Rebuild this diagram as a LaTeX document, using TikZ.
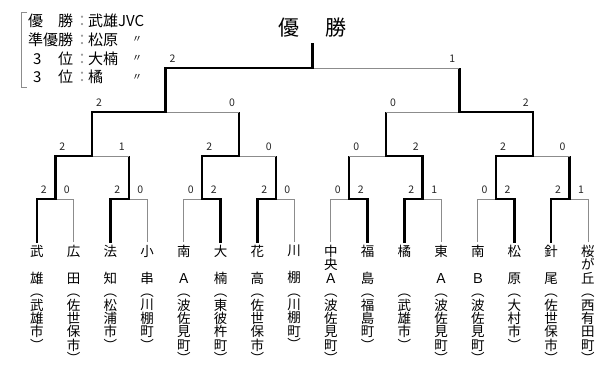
\documentclass[tikz,border=0pt]{standalone}
\usepackage{fontspec}
\newfontfamily\jp{Noto Sans CJK JP}
\usetikzlibrary{calc}
\tikzset{
	% bracket lines
	win/.style={line width=2.4pt,black,line cap=rect},
	lose/.style={line width=0.9pt,black!45},
	% texts
	team/.style={inner sep=0pt,align=center,anchor=north,font=\jp\fontsize{13.5}{13.4}\selectfont},
	score/.style={inner sep=0pt,font=\jp\fontsize{10.5}{10.5}\selectfont,text=black!85},
	legend/.style={inner sep=0pt,anchor=west,font=\jp\fontsize{15}{15}\selectfont},
	colon/.style={inner sep=0pt,font=\jp\fontsize{15}{15}\selectfont,text=black!40},
	ditto/.style={inner sep=0pt,font=\jp\fontsize{10}{10}\selectfont},
}

\begin{document}
\begin{tikzpicture}[x=1pt,y=-1pt]
\useasboundingbox (0,0) rectangle (603,368);
% the legend
\draw[lose] (27,12) -- (21,12) -- (21,87) -- (27,87);
\node[legend] (k1) at (28,21) {\makebox[45pt][s]{優\hfill 勝}};
\node[legend] (k2) at (28,40) {準優勝};
\node[legend] (k3) at (28,59) {\makebox[45pt][s]{\hspace{5pt}3\hfill 位}};
\node[legend] (k4) at (28,77) {\makebox[45pt][s]{\hspace{5pt}3\hfill 位}};
\foreach \k in {1,...,4}
  \node[colon] (c\k) at ($(k\k.west)+(54,0)$) {：};
\node[legend] (v1) at (88,21) {武雄JVC};
\node[legend] (v2) at (88,40) {松原};
\node[legend] (v3) at (88,59) {大楠};
\node[legend] (v4) at (88,77) {橘};
\foreach \k in {2,3,4}
  \node[ditto] (d\k) at (137,{21+18.7*(\k-1)}) {〃};
% the title
\node[inner sep=0pt,font=\jp\fontsize{21}{21}\selectfont] (champ) at (312,28) {優\hspace{26pt}勝};
% the teams
\foreach \name [count=\i] in {
  {武\\　\\雄\\︵\\武\\雄\\市\\︶},
  {広\\　\\田\\︵\\佐\\世\\保\\市\\︶},
  {法\\　\\知\\︵\\松\\浦\\市\\︶},
  {小\\　\\串\\︵\\川\\棚\\町\\︶},
  {南\\　\\Ａ\\︵\\波\\佐\\見\\町\\︶},
  {大\\　\\楠\\︵\\東\\彼\\杵\\町\\︶},
  {花\\　\\高\\︵\\佐\\世\\保\\市\\︶},
  {川\\　\\棚\\︵\\川\\棚\\町\\︶},
  {中\\央\\Ａ\\︵\\波\\佐\\見\\町\\︶},
  {福\\　\\島\\︵\\福\\島\\町\\︶},
  {橘\\　\\　\\︵\\武\\雄\\市\\︶},
  {東\\　\\Ａ\\︵\\波\\佐\\見\\町\\︶},
  {南\\　\\Ｂ\\︵\\波\\佐\\見\\町\\︶},
  {松\\　\\原\\︵\\大\\村\\市\\︶},
  {針\\　\\尾\\︵\\佐\\世\\保\\市\\︶},
  {桜\\が\\丘\\︵\\西\\有\\田\\町\\︶}}
  \node[team] (t\i) at ({37+36.73*(\i-1)},245) {\name};
% the matches
\foreach \i in {1,...,8}
  \coordinate (m\i) at ({37+36.73*(2*\i-1.5)},199);
\foreach \i in {1,...,4}
  \coordinate (s\i) at ({37+36.73*(4*\i-2.5)},156);
\foreach \i in {1,2}
  \coordinate (q\i) at ({37+36.73*(8*\i-4.5)},112);
\coordinate (f) at ({37+36.73*7.5},68);
% first round
\foreach \w/\l/\m in {1/2/1,3/4/2,6/5/3,7/8/4,10/9/5,11/12/6,14/13/7,15/16/8} {
  \draw[lose,shorten <=3pt] (t\l.north) |- (m\m);
  \draw[win,shorten <=3pt] (t\w.north) |- (m\m);
}
% the later rounds
\foreach \w/\l/\p in {m1/m2/s1,m3/m4/s2,m6/m5/s3,m7/m8/s4,s1/s2/q1,s4/s3/q2,q1/q2/f} {
  \draw[win,line cap=butt] (\l) -- (\l |- \p);
  \draw[lose] (\l |- \p) -- (\p);
  \draw[win] (\w) |- (\p);
}
\draw[win,shorten >=6pt] (f) -- (f |- champ.south);
% the scores
\foreach \m/\a/\b in {m1/2/0,m2/2/0,m3/0/2,m4/2/0,m5/0/2,m6/2/1,m7/0/2,m8/2/1} {
  \node[score] (\m-a) at ($(\m)+(-11.5,-9)$) {\a};
  \node[score] (\m-b) at ($(\m)+(11.5,-9)$) {\b};
}
\foreach \l/\r/\p/\a/\b in {m1/m2/s1/2/1,m3/m4/s2/2/0,m5/m6/s3/0/2,m7/m8/s4/2/0,s1/s2/q1/2/0,s3/s4/q2/0/2,q1/q2/f/2/1} {
  \node[score] (\p-a) at ($(\l |- \p)+(7,-9)$) {\a};
  \node[score] (\p-b) at ($(\r |- \p)+(-7,-9)$) {\b};
}
\end{tikzpicture}
\end{document}
